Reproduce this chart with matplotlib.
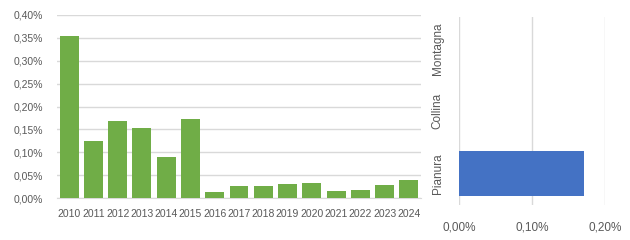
import matplotlib
matplotlib.use("Agg")
import matplotlib.pyplot as plt
from matplotlib.ticker import FuncFormatter

# left chart: yearly share
years = ["2010", "2011", "2012", "2013", "2014", "2015", "2016", "2017",
         "2018", "2019", "2020", "2021", "2022", "2023", "2024"]
year_values = [0.354, 0.125, 0.168, 0.153, 0.090, 0.173, 0.013, 0.026,
               0.026, 0.031, 0.033, 0.015, 0.017, 0.028, 0.039]

# right chart: by zone
zones = ["Pianura", "Collina", "Montagna"]
zone_values = [0.171, 0.0, 0.0]

GREEN = "#70AD47"
BLUE = "#4472C4"
GRID = "#D9D9D9"
TXT = "#595959"

plt.rcParams['font.family'] = ['Liberation Sans', 'DejaVu Sans']


def pct(v, pos):
    return ("%.2f%%" % v).replace(".", ",")


fig = plt.figure(figsize=(6.3, 2.4), dpi=100)

# --- left: bars per year
ax = fig.add_axes([57 / 630, 1 - 198 / 240, 364 / 630, 183 / 240])
x = range(len(years))
ax.bar(x, year_values, width=0.78, color=GREEN, zorder=3)
ax.set_ylim(0, 0.40)
ax.set_xlim(-0.5, len(years) - 0.5)
ax.set_yticks([i * 0.05 for i in range(9)])
ax.yaxis.set_major_formatter(FuncFormatter(pct))
ax.set_xticks(list(x))
ax.set_xticklabels(years)
ax.grid(axis="y", color=GRID, linewidth=1, zorder=0)
for s in ["top", "right", "left"]:
    ax.spines[s].set_visible(False)
ax.spines["bottom"].set_color(GRID)
ax.tick_params(length=0, labelsize=7.5, colors=TXT)
ax.tick_params(axis="y", pad=10)
ax.tick_params(axis="x", pad=8)

# --- right: horizontal bars per zone
ax2 = fig.add_axes([459 / 630, 1 - 205 / 240, 146 / 630, 188 / 240])
y = range(len(zones))
ax2.barh(y, zone_values, height=0.72, color=BLUE, zorder=3)
ax2.set_xlim(0, 0.20)
ax2.set_ylim(-0.5, len(zones) - 0.5)
ax2.set_xticks([0, 0.10, 0.20])
ax2.xaxis.set_major_formatter(FuncFormatter(pct))
ax2.set_yticks(list(y))
ax2.set_yticklabels(zones, rotation=90, va="center")
ax2.grid(axis="x", color=GRID, linewidth=1, zorder=0)
for s in ax2.spines.values():
    s.set_visible(False)
ax2.tick_params(length=0, labelsize=8.5, colors=TXT)
ax2.tick_params(axis="y", pad=11)
ax2.tick_params(axis="x", pad=12)

fig.savefig("out.png", dpi=100, facecolor="white")
